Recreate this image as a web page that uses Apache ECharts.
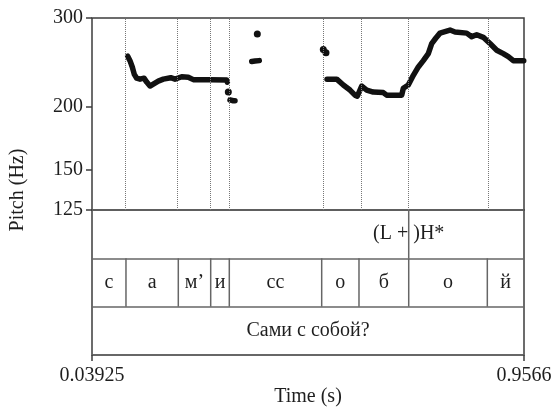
<!DOCTYPE html>
<html>
<head>
<meta charset="utf-8">
<script src="https://cdn.jsdelivr.net/npm/echarts@6/dist/echarts.min.js"></script>
<style>
html, body { margin: 0; padding: 0; background: #fff; }
#main { width: 556px; height: 411px; }
</style>
</head>
<body>
<div id="main"></div>
<script>
var T_MIN = 0.03925, T_MAX = 0.9566;
var yTicks = [125, 150, 200, 300];
var xTicks = [0.03925, 0.9566];
var xTickLabels = ['0.03925', '0.9566'];

// pitch contour pieces (time s, Hz)
var segATime = [0.1151, 0.1199, 0.1248, 0.1291, 0.1342, 0.1412, 0.1497, 0.1554, 0.1624, 0.1694, 0.1800, 0.1907, 0.2064, 0.2155, 0.2297, 0.2437, 0.2544, 0.2898, 0.3253, 0.3266];
var segAHz   = [252, 247, 240, 232, 228, 227, 228, 224, 220, 222, 225, 227, 228.5, 227, 229.5, 229, 226.5, 226.5, 226, 224];
var segBTime = [0.3323, 0.3393, 0.3429];
var segBHz   = [206.5, 205.7, 205.7];
var segCTime = [0.3784, 0.3854, 0.3945];
var segCHz   = [246, 246.5, 247];
var segDTime = [0.5383, 0.5589, 0.5729, 0.5871, 0.5977, 0.6026, 0.6120, 0.6226, 0.6366, 0.6578, 0.6650, 0.6969, 0.7003, 0.7109, 0.7216, 0.7322, 0.7428, 0.7534, 0.7606, 0.7691, 0.7782, 0.7888, 0.7995, 0.8101, 0.8349, 0.8455, 0.8562, 0.8702, 0.8844, 0.8987, 0.9126, 0.9233, 0.9339, 0.9560];
var segDHz   = [227, 227, 221, 216, 211, 210, 220, 216, 214, 213.5, 211, 211, 217.7, 221, 231, 240, 247, 255, 267, 273.5, 280, 282, 284, 281.5, 280, 275.5, 278, 274.7, 267, 259, 255, 251.5, 247, 247];
var dotTime = [0.3287, 0.3903, 0.5304, 0.5361];
var dotHz   = [214, 279, 260, 256];

// textgrid
var phoneBounds = [0.03925, 0.1114, 0.2225, 0.2913, 0.3308, 0.5270, 0.6062, 0.7118, 0.8787, 0.9566];
var phoneLabels = ['с', 'а', 'м’', 'и', 'сс', 'о', 'б', 'о', 'й'];
var toneTimes = [0.7118];
var toneLabels = ['(L + )H*'];
var wordBounds = [0.03925, 0.9566];
var wordLabels = ['Сами с собой?'];

var FONT = 'Liberation Serif';
var INK = '#1e1e1e';
var FRAME = '#3c3c3c';

function zip(a, b) {
    return a.map(function (v, i) { return [v, b[i]]; });
}

function intervalRows(bounds, labels, level) {
    var rows = [];
    for (var i = 0; i < labels.length; i++) {
        rows.push([bounds[i], bounds[i + 1], level, i]);
    }
    return rows;
}

function tierSeries(bounds, labels, level) {
    return {
        type: 'custom',
        xAxisIndex: 1,
        yAxisIndex: 1,
        silent: true,
        data: intervalRows(bounds, labels, level),
        renderItem: function (params, api) {
            var s = api.value(0), e = api.value(1), lv = api.value(2);
            var top = api.coord([s, lv + 0.5]);
            var bot = api.coord([s, lv - 0.5]);
            var mid = api.coord([(s + e) / 2, lv]);
            var kids = [];
            if (s > T_MIN + 1e-6) {
                kids.push({
                    type: 'line',
                    shape: { x1: top[0], y1: top[1], x2: bot[0], y2: bot[1] },
                    style: { stroke: '#666', lineWidth: 1.5 }
                });
            }
            kids.push({
                type: 'text',
                x: mid[0], y: mid[1],
                style: {
                    text: labels[params.dataIndex],
                    fill: INK, font: '20px "' + FONT + '"',
                    align: 'center', verticalAlign: 'middle'
                }
            });
            return { type: 'group', children: kids };
        }
    };
}

function contour(t, hz) {
    return {
        type: 'line',
        xAxisIndex: 0,
        yAxisIndex: 0,
        data: zip(t, hz),
        showSymbol: false,
        silent: true,
        lineStyle: { color: '#111', width: 5.5, cap: 'round', join: 'round' }
    };
}

var chart = echarts.init(document.getElementById('main'));

var option = {
    animation: false,
    grid: [
        { left: 92, top: 18, width: 432, height: 192, show: true, borderColor: FRAME, borderWidth: 1.5 },
        { left: 92, top: 210, width: 432, height: 145, show: true, borderColor: FRAME, borderWidth: 1.5 }
    ],
    xAxis: [
        { gridIndex: 0, type: 'value', min: T_MIN, max: T_MAX, show: false },
        {
            gridIndex: 1, type: 'value', min: T_MIN, max: T_MAX,
            axisLine: { show: false },
            splitLine: { show: false },
            axisTick: { show: true, customValues: xTicks, length: 6, lineStyle: { color: FRAME, width: 1.5 } },
            axisLabel: {
                customValues: xTicks, margin: 11,
                fontFamily: FONT, fontSize: 20, color: INK,
                formatter: function (v) {
                    var i = xTicks.indexOf(v);
                    return i >= 0 ? xTickLabels[i] : '';
                }
            }
        }
    ],
    yAxis: [
        {
            gridIndex: 0, type: 'log', logBase: 10, min: 125, max: 300,
            axisLine: { show: false },
            splitLine: { show: false },
            axisTick: { show: true, customValues: yTicks, length: 6, lineStyle: { color: FRAME, width: 1.5 } },
            axisLabel: { customValues: yTicks, margin: 9, fontFamily: FONT, fontSize: 20, color: INK }
        },
        {
            gridIndex: 1, type: 'value', min: 0, max: 3, interval: 1,
            axisLine: { show: false },
            axisTick: { show: false },
            axisLabel: { show: false },
            splitLine: { show: true, lineStyle: { color: '#666', width: 1.5 } }
        }
    ],
    graphic: [
        {
            type: 'text', x: 18, y: 190, rotation: Math.PI / 2,
            style: { text: 'Pitch (Hz)', fill: INK, font: '20px "' + FONT + '"', align: 'center', verticalAlign: 'middle' }
        },
        {
            type: 'text', x: 308, y: 397,
            style: { text: 'Time (s)', fill: INK, font: '20px "' + FONT + '"', align: 'center', verticalAlign: 'middle' }
        }
    ],
    series: [
        {
            // dotted boundary guides
            type: 'line',
            xAxisIndex: 0,
            yAxisIndex: 0,
            data: [],
            silent: true,
            markLine: {
                silent: true,
                symbol: ['none', 'none'],
                label: { show: false },
                lineStyle: { type: 'dotted', color: '#777', width: 1 },
                data: phoneBounds.slice(1, -1).map(function (t) { return { xAxis: t }; })
            }
        },
        contour(segATime, segAHz),
        contour(segBTime, segBHz),
        contour(segCTime, segCHz),
        contour(segDTime, segDHz),
        {
            type: 'scatter',
            xAxisIndex: 0,
            yAxisIndex: 0,
            data: zip(dotTime, dotHz),
            symbolSize: 7,
            silent: true,
            itemStyle: { color: '#111', opacity: 1 }
        },
        {
            // tone tier (point tier)
            type: 'custom',
            xAxisIndex: 1,
            yAxisIndex: 1,
            silent: true,
            data: toneTimes.map(function (t, i) { return [t, 2.5, i]; }),
            renderItem: function (params, api) {
                var t = api.value(0), lv = api.value(1);
                var top = api.coord([t, lv + 0.5]);
                var bot = api.coord([t, lv - 0.5]);
                var mid = api.coord([t, lv]);
                return {
                    type: 'group',
                    children: [
                        { type: 'line', shape: { x1: top[0], y1: top[1], x2: bot[0], y2: bot[1] }, style: { stroke: '#666', lineWidth: 1.5 } },
                        { type: 'text', x: mid[0], y: mid[1], style: { text: toneLabels[params.dataIndex], fill: INK, font: '20px "' + FONT + '"', align: 'center', verticalAlign: 'middle' } }
                    ]
                };
            }
        },
        tierSeries(phoneBounds, phoneLabels, 1.5),
        tierSeries(wordBounds, wordLabels, 0.5)
    ]
};

chart.setOption(option);
</script>
</body>
</html>
